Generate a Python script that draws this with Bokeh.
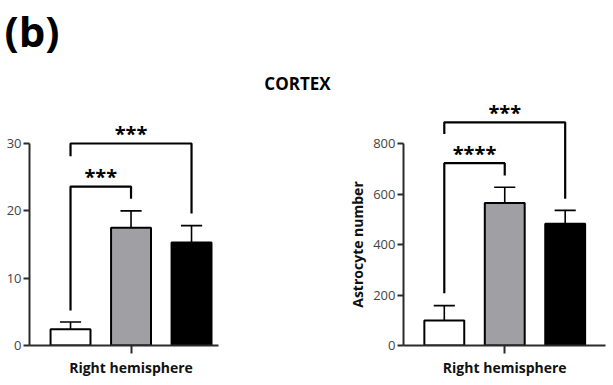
import math
from bokeh.plotting import figure
from bokeh.layouts import row, column
from bokeh.models import Range1d, FixedTicker, Label, ColumnDataSource
from bokeh.embed import file_html
from bokeh.resources import INLINE
from bokeh.core.properties import value

# ---- data ----
groups = [1, 2, 3]
bar_colors = ["white", "#A0A0A4", "black"]
cat_label = "Right hemisphere"
panel_tag = "(b)"
region_title = "CORTEX"
right_ylabel = "Astrocyte number"

left_means = [2.4, 17.5, 15.3]
left_sem = [1.1, 2.5, 2.5]
right_means = [99, 564, 482]
right_sem = [59, 63, 53]

left_brackets_x0 = [1, 1]
left_brackets_x1 = [2, 3]
left_brackets_top = [23.6, 30.0]
left_brackets_lb = [5.2, 28.1]
left_brackets_rb = [21.8, 19.6]
left_stars = ["***", "***"]

right_brackets_x0 = [1, 1]
right_brackets_x1 = [2, 3]
right_brackets_top = [722, 884]
right_brackets_lb = [207, 838]
right_brackets_rb = [673, 581]
right_stars = ["****", "***"]

FONT = "Open Sans"
AXC = "#2b2b2b"
TXC = "#444444"
FRAME_H = 287


def make_panel(width, x_range, y_end, y_ticks, x_axis_end, means, sems, bx0, bx1, btop, blb,
               brb, stars, min_left, min_right):
    p = figure(width=width, height=327, output_backend="svg", toolbar_location=None,
               x_range=x_range, y_range=Range1d(0, y_end),
               min_border_left=min_left, min_border_right=min_right,
               min_border_top=0, min_border_bottom=40)
    p.outline_line_color = None
    p.grid.visible = False
    p.background_fill_color = None
    p.border_fill_color = None
    ppu = FRAME_H / y_end

    src = ColumnDataSource(dict(x=groups, top=means, hi=[m + s for m, s in zip(means, sems)],
                                color=bar_colors))
    p.segment(x0="x", y0="top", x1="x", y1="hi", source=src, line_color="black", line_width=1.6)
    p.segment(x0=[g - 0.175 for g in groups], y0=src.data["hi"],
              x1=[g + 0.175 for g in groups], y1=src.data["hi"], line_color="black", line_width=1.6)
    p.vbar(x="x", top="top", bottom=0, width=0.66, source=src, fill_color="color",
           line_color="black", line_width=2)

    xs, ys = [], []
    for a, b, t, l, r in zip(bx0, bx1, btop, blb, brb):
        xs.append([a, a, b, b])
        ys.append([l, t, t, r])
    p.multi_line(xs=xs, ys=ys, line_color="black", line_width=2.2)
    off = -3.5 / ppu
    p.text(x=[(a + b) / 2 for a, b in zip(bx0, bx1)], y=[t + off for t in btop], text=stars,
           text_align="center", text_baseline="bottom", text_font=value(FONT),
           text_font_size="20px", text_font_style="bold", text_color="black")

    p.yaxis.bounds = (0, y_ticks[-1])
    p.yaxis.ticker = FixedTicker(ticks=y_ticks)
    p.yaxis.minor_tick_line_color = None
    p.yaxis.major_tick_in = 0
    p.yaxis.major_tick_out = 6
    p.yaxis.major_label_standoff = 2
    p.yaxis.axis_line_width = 2
    p.yaxis.axis_line_color = AXC
    p.yaxis.major_tick_line_width = 2
    p.yaxis.major_tick_line_color = AXC
    p.yaxis.major_label_text_font = FONT
    p.yaxis.major_label_text_font_size = "13px"
    p.yaxis.major_label_text_color = TXC

    p.xaxis.bounds = (x_range.start, x_axis_end)
    p.xaxis.ticker = FixedTicker(ticks=[2])
    p.xaxis.major_label_overrides = {2: cat_label}
    p.xaxis.minor_tick_line_color = None
    p.xaxis.major_tick_in = 0
    p.xaxis.major_tick_out = 8
    p.xaxis.major_label_standoff = 4
    p.xaxis.axis_line_width = 2
    p.xaxis.axis_line_color = AXC
    p.xaxis.major_tick_line_width = 2
    p.xaxis.major_tick_line_color = AXC
    p.xaxis.major_label_text_font = FONT
    p.xaxis.major_label_text_font_size = "14px"
    p.xaxis.major_label_text_font_style = "bold"
    p.xaxis.major_label_text_color = "#111111"
    return p


# header with the panel tag
hdr = figure(width=613, height=58, output_backend="svg", toolbar_location=None,
             x_range=Range1d(0, 1), y_range=Range1d(0, 1), x_axis_type=None, y_axis_type=None,
             min_border=0)
hdr.outline_line_color = None
hdr.grid.visible = False
hdr.add_layout(Label(x=4, y=28, x_units="screen", y_units="screen", text=panel_tag,
                     text_font=FONT, text_font_size="42px", text_font_style="bold",
                     text_color="black", text_baseline="middle"))

# left panel (its frame also hosts the title and the right panel's y label)
p1 = make_panel(370, Range1d(0.322, 5.958), FRAME_H / 6.7333, [0, 10, 20, 30], 3.446,
                left_means, left_sem, left_brackets_x0, left_brackets_x1, left_brackets_top,
                left_brackets_lb, left_brackets_rb, left_stars, min_left=29, min_right=0)
p1.add_layout(Label(x=268, y=262, x_units="screen", y_units="screen", text=region_title,
                    text_font=FONT, text_font_size="17px", text_font_style="bold",
                    text_color="black", text_align="center", text_baseline="middle"))
p1.add_layout(Label(x=328, y=101, x_units="screen", y_units="screen", text=right_ylabel,
                    angle=math.pi / 2, text_font=FONT, text_font_size="14px",
                    text_font_style="bold", text_color="#111111", text_align="center",
                    text_baseline="middle"))

p2 = make_panel(243, Range1d(0.325, 3.667), FRAME_H / 0.2525, [0, 200, 400, 600, 800], 3.667,
                right_means, right_sem, right_brackets_x0, right_brackets_x1, right_brackets_top,
                right_brackets_lb, right_brackets_rb, right_stars, min_left=32, min_right=8)

layout = column(hdr, row(p1, p2))
open("out.html", "w").write(file_html(layout, INLINE))
